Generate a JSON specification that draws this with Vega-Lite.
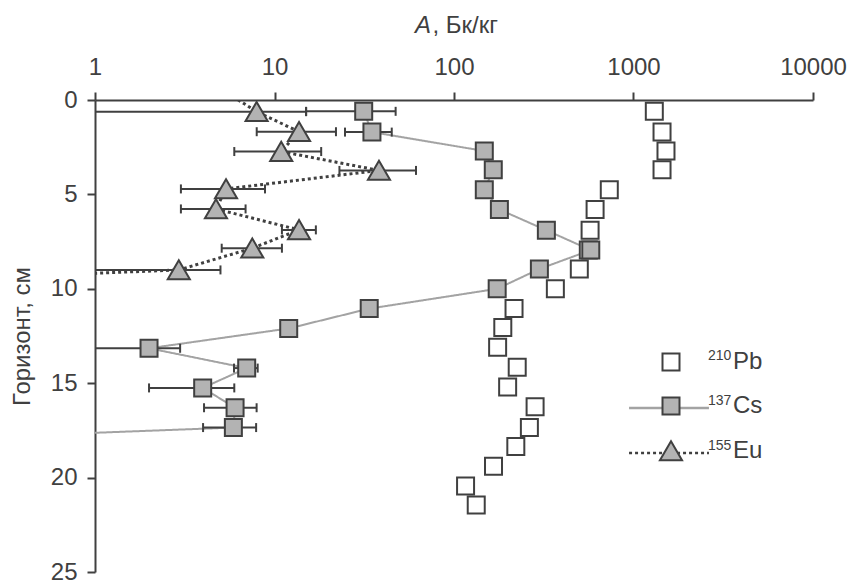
{
  "$schema": "https://vega.github.io/schema/vega-lite/v6.json",
  "width": 718,
  "height": 472,
  "autosize": {"type": "none"},
  "padding": {"left": 95, "top": 100, "right": 37, "bottom": 9},
  "background": "white",
  "title": {"text": "A", "fontStyle": "italic", "font": "Liberation Sans", "fontSize": 24, "fontWeight": "normal", "color": "#404040", "anchor": "start", "frame": "group", "dx": 320, "dy": 44, "offset": 0, "baseline": "alphabetic"},
  "config": {
    "view": {"stroke": null},
    "font": "Liberation Sans",
    "axis": {
      "domainColor": "#404040", "domainWidth": 2,
      "tickColor": "#404040", "tickWidth": 2, "tickSize": 8,
      "labelFont": "Liberation Sans", "labelFontSize": 24, "labelColor": "#404040",
      "titleFont": "Liberation Sans", "titleFontSize": 24, "titleColor": "#404040", "titleFontWeight": "normal",
      "grid": false, "labelFlush": false, "labelOverlap": false
    },
    "legend": {"labelFont": "Liberation Sans"}
  },
  "data": {
    "values": [
      {"iso": "Pb", "depth": 0.6, "A": 1306},
      {"iso": "Pb", "depth": 1.7, "A": 1442},
      {"iso": "Pb", "depth": 2.7, "A": 1517},
      {"iso": "Pb", "depth": 3.7, "A": 1442},
      {"iso": "Pb", "depth": 4.75, "A": 733},
      {"iso": "Pb", "depth": 5.8, "A": 611},
      {"iso": "Pb", "depth": 6.9, "A": 573},
      {"iso": "Pb", "depth": 7.95, "A": 560},
      {"iso": "Pb", "depth": 8.95, "A": 499},
      {"iso": "Pb", "depth": 10.0, "A": 367},
      {"iso": "Pb", "depth": 11.05, "A": 216},
      {"iso": "Pb", "depth": 12.05, "A": 187},
      {"iso": "Pb", "depth": 13.1, "A": 175},
      {"iso": "Pb", "depth": 14.15, "A": 225},
      {"iso": "Pb", "depth": 15.2, "A": 199},
      {"iso": "Pb", "depth": 16.25, "A": 283},
      {"iso": "Pb", "depth": 17.35, "A": 263},
      {"iso": "Pb", "depth": 18.35, "A": 221},
      {"iso": "Pb", "depth": 19.4, "A": 166},
      {"iso": "Pb", "depth": 20.45, "A": 116},
      {"iso": "Pb", "depth": 21.45, "A": 133},
      {"iso": "Cs", "depth": 0.6, "A": 31.4, "lo": 15, "hi": 47.3},
      {"iso": "Cs", "depth": 1.7, "A": 34.9, "lo": 24.7, "hi": 45},
      {"iso": "Cs", "depth": 2.7, "A": 147.5},
      {"iso": "Cs", "depth": 3.7, "A": 165.5},
      {"iso": "Cs", "depth": 4.75, "A": 147.5},
      {"iso": "Cs", "depth": 5.8, "A": 179},
      {"iso": "Cs", "depth": 6.9, "A": 327},
      {"iso": "Cs", "depth": 7.95, "A": 578},
      {"iso": "Cs", "depth": 8.95, "A": 299},
      {"iso": "Cs", "depth": 10.0, "A": 174},
      {"iso": "Cs", "depth": 11.05, "A": 33.7},
      {"iso": "Cs", "depth": 12.1, "A": 12},
      {"iso": "Cs", "depth": 13.15, "A": 2.0, "lo": 1.0, "hi": 2.98},
      {"iso": "Cs", "depth": 14.2, "A": 7.0, "lo": 5.95, "hi": 8.06},
      {"iso": "Cs", "depth": 15.25, "A": 3.98, "lo": 2.0, "hi": 5.97},
      {"iso": "Cs", "depth": 16.3, "A": 6.03, "lo": 4.05, "hi": 7.95},
      {"iso": "Cs", "depth": 17.35, "A": 5.9, "lo": 4.0, "hi": 7.9},
      {"iso": "Cs", "depth": 18.4, "A": 0.007},
      {"iso": "Eu", "depth": -0.7, "A": 4.83},
      {"iso": "Eu", "depth": 0.62, "A": 7.95, "lo": 1.0, "hi": 15.0},
      {"iso": "Eu", "depth": 1.68, "A": 13.7, "lo": 7.96, "hi": 22},
      {"iso": "Eu", "depth": 2.73, "A": 10.9, "lo": 5.97, "hi": 18.2},
      {"iso": "Eu", "depth": 3.73, "A": 38.2, "lo": 23, "hi": 61.4},
      {"iso": "Eu", "depth": 4.71, "A": 5.37, "lo": 3.01, "hi": 8.85},
      {"iso": "Eu", "depth": 5.77, "A": 4.72, "lo": 3.01, "hi": 6.9},
      {"iso": "Eu", "depth": 6.88, "A": 13.7, "lo": 11, "hi": 17},
      {"iso": "Eu", "depth": 7.85, "A": 7.52, "lo": 5.08, "hi": 11},
      {"iso": "Eu", "depth": 9.0, "A": 2.93, "lo": 1.0, "hi": 5.0},
      {"iso": "Eu", "depth": 10.0, "A": 0.007}
    ]
  },
  "layer": [
    {
      "transform": [{"filter": "datum.iso == 'Cs'"}],
      "mark": {"type": "line", "clip": true, "strokeWidth": 2},
      "encoding": {
        "x": {"field": "A", "type": "quantitative", "scale": {"type": "log", "domain": [1, 10000]},
              "axis": {"orient": "top", "values": [1, 10, 100, 1000, 10000], "format": "d", "labelPadding": 13, "title": ", Бк/кг", "titleAlign": "left", "titleX": 337, "titlePadding": 18}},
        "y": {"field": "depth", "type": "quantitative", "scale": {"domain": [0, 25], "reverse": true, "nice": false, "zero": false},
              "axis": {"values": [0, 5, 10, 15, 20, 25], "labelPadding": 10, "title": "Горизонт, см", "titlePadding": 16}},
        "order": {"field": "depth", "type": "quantitative"},
        "stroke": {"field": "iso", "type": "nominal",
                   "scale": {"domain": ["Pb", "Cs", "Eu", "~"], "range": ["rgba(0,0,0,0)", "#a3a3a3", "#404040", "rgba(0,0,0,0)"]},
                   "legend": {"orient": "none", "legendX": 564, "legendY": 253, "title": null, "symbolType": "M-4.7,0L4.7,0", "symbolSize": 289, "symbolStrokeWidth": 2.5, "labelFontSize": 14, "labelColor": "#404040", "labelBaseline": "bottom", "rowPadding": 26, "labelOffset": 29,
                              "labelExpr": "datum.label == 'Pb' ? '210' : datum.label == 'Cs' ? '137' : datum.label == 'Eu' ? '155' : ''"}},
        "strokeDash": {"field": "iso", "type": "nominal",
                       "scale": {"domain": ["Pb", "Cs", "Eu", "~"], "range": [[1, 0], [1, 0], [3, 3], [1, 0]]},
                       "legend": {"orient": "none", "legendX": 564, "legendY": 253, "title": null, "symbolType": "M-4.7,0L4.7,0", "symbolSize": 289, "symbolStrokeWidth": 2.5, "labelFontSize": 14, "labelColor": "#404040", "labelBaseline": "bottom", "rowPadding": 26, "labelOffset": 29,
                                  "labelExpr": "datum.label == 'Pb' ? '210' : datum.label == 'Cs' ? '137' : datum.label == 'Eu' ? '155' : ''"}}
      }
    },
    {
      "transform": [{"filter": "datum.iso == 'Eu'"}],
      "mark": {"type": "line", "clip": true, "strokeWidth": 3, "strokeCap": "butt"},
      "encoding": {
        "x": {"field": "A", "type": "quantitative"},
        "y": {"field": "depth", "type": "quantitative"},
        "order": {"field": "depth", "type": "quantitative"},
        "stroke": {"field": "iso", "type": "nominal"},
        "strokeDash": {"field": "iso", "type": "nominal"}
      }
    },
    {
      "transform": [{"filter": "isValid(datum.lo)"}],
      "mark": {"type": "rule", "clip": true, "color": "#404040", "strokeWidth": 2},
      "encoding": {
        "x": {"field": "lo", "type": "quantitative"},
        "x2": {"field": "hi"},
        "y": {"field": "depth", "type": "quantitative"}
      }
    },
    {
      "transform": [{"filter": "isValid(datum.lo)"}],
      "mark": {"type": "tick", "clip": true, "orient": "vertical", "color": "#404040", "size": 9, "thickness": 2, "opacity": 1},
      "encoding": {
        "x": {"field": "lo", "type": "quantitative"},
        "y": {"field": "depth", "type": "quantitative"}
      }
    },
    {
      "transform": [{"filter": "isValid(datum.hi)"}],
      "mark": {"type": "tick", "clip": true, "orient": "vertical", "color": "#404040", "size": 9, "thickness": 2, "opacity": 1},
      "encoding": {
        "x": {"field": "hi", "type": "quantitative"},
        "y": {"field": "depth", "type": "quantitative"}
      }
    },
    {
      "mark": {"type": "point", "clip": true, "filled": true, "opacity": 1, "stroke": "#404040", "strokeWidth": 2, "size": 289},
      "encoding": {
        "x": {"field": "A", "type": "quantitative"},
        "y": {"field": "depth", "type": "quantitative"},
        "shape": {"field": "iso", "type": "nominal",
                  "scale": {"domain": ["Pb", "Cs", "Eu"], "range": ["square", "square", "M0,-1.15L1.3,1.1L-1.3,1.1Z"]},
                  "legend": {"orient": "none", "legendX": 564, "legendY": 250, "title": null, "symbolSize": 289, "symbolStrokeWidth": 2, "labelFontSize": 24, "labelColor": "#404040", "rowPadding": 18, "labelOffset": 50,
                             "encode": {"symbols": {"stroke": {"value": "#404040"}, "strokeWidth": {"value": 2}, "opacity": {"value": 1}}}}},
        "fill": {"field": "iso", "type": "nominal",
                 "scale": {"domain": ["Pb", "Cs", "Eu"], "range": ["#ffffff", "#b3b3b3", "#b3b3b3"]},
                 "legend": {"orient": "none", "legendX": 564, "legendY": 250, "title": null, "symbolSize": 289, "symbolStrokeWidth": 2, "labelFontSize": 24, "labelColor": "#404040", "rowPadding": 18, "labelOffset": 50,
                            "encode": {"symbols": {"stroke": {"value": "#404040"}, "strokeWidth": {"value": 2}, "opacity": {"value": 1}}}}}
      }
    }
  ]
}
